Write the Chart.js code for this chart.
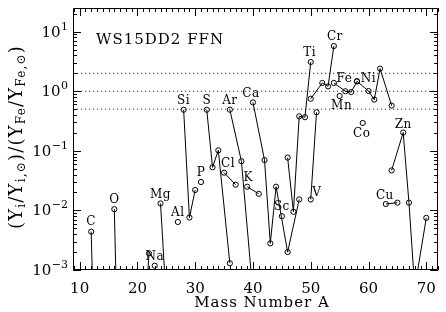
<!DOCTYPE html>
<html>
<head>
<meta charset="utf-8">
<script src="https://cdn.jsdelivr.net/npm/chart.js@4.4.0/dist/chart.umd.min.js"></script>
<style>
html, body { margin: 0; padding: 0; background: #fff; }
#wrap { width: 446px; height: 312px; }
</style>
</head>
<body>
<div id="wrap"><canvas id="chart"></canvas></div>
<script>
// Datos: elementos, masas de los isotopos y razones (Y_i/Y_i,sol)/(Y_Fe/Y_Fe,sol)
var elementos = ["C", "O", "Ne", "Na", "Mg", "Al", "Si", "P", "S", "Cl", "Ar", "K",
                 "Ca", "Sc", "Ti", "V", "Cr", "Mn", "Fe", "Co", "Ni", "Cu", "Zn"];
var masas = [
    [12, 13], [16, 17, 18], [20, 21, 22], [23], [24, 25, 26], [27], [28, 29, 30], [31],
    [32, 33, 34, 36], [35, 37], [36, 38, 40], [39, 41], [40, 42, 43, 44, 46, 48], [45],
    [46, 47, 48, 49, 50], [50, 51], [50, 52, 53, 54], [55], [54, 56, 57, 58], [59],
    [58, 60, 61, 62, 64], [63, 65], [64, 66, 67, 68, 70]
];
var razones = [
    [0.0044, 1e-6], [0.0105, 1e-6, 1e-6], [1e-7, 4.5e-5, 0.0019], [0.00118],
    [0.0131, 0.0003, 0.0002], [0.0064], [0.49, 0.0076, 0.022], [0.030],
    [0.49, 0.053, 0.102, 0.0013], [0.043, 0.027], [0.49, 0.067, 0.0004], [0.025, 0.019],
    [0.65, 0.070, 0.0028, 0.025, 0.0020, 0.0153], [0.0080],
    [0.077, 0.0095, 0.38, 0.367, 3.1], [0.0153, 0.445], [0.75, 1.38, 1.21, 5.74], [0.835],
    [1.38, 1.0, 0.97, 1.47], [0.294], [1.47, 1.01, 0.725, 2.4, 0.575],
    [0.0128, 0.0135], [0.047, 0.203, 0.0135, 0.0005, 0.0075]
];
var lineasRef = [0.5, 1, 2];
var ticksX = [10, 20, 30, 40, 50, 60, 70];
var ticksY = [-3, -2, -1, 0, 1];

// Etiquetas: [texto, elemento, masa de anclaje, dx, dy]
var etiquetas = [
    ["C", "C", 12, 0, -10], ["O", "O", 16, 0, -9], ["Na", "Na", 23, 0, -9],
    ["Mg", "Mg", 24, 0, -9], ["Al", "Al", 27, 0, -9], ["Si", "Si", 28, 0, -9],
    ["P", "P", 31, 0, -9], ["S", "S", 32, 0, -9], ["Cl", "Cl", 35, 4, -9],
    ["Ar", "Ar", 36, 0, -9], ["K", "K", 39, 1, -9], ["Ca", "Ca", 40, -2, -9],
    ["Sc", "Sc", 45, 0, -9], ["V", "V", 50, 6, -7], ["Ti", "Ti", 50, -1, -9],
    ["Cr", "Cr", 54, 1, -9], ["Fe", "Fe", 56, -1, -12], ["Mn", "Mn", 55, 2, 10],
    ["Ni", "Ni", 60, 0, -12], ["Co", "Co", 59, -1, 11], ["Zn", "Zn", 66, 0, -8],
    ["Cu", "Cu", 63, -1, -8]
];

var XMIN = 8.85, XMAX = 72.05, YMIN = 1e-3, YMAX = 25;
var fuente = "'DejaVu Serif', 'Liberation Serif', serif";

var datasets = elementos.map(function (el, i) {
    return {
        label: el,
        data: masas[i].map(function (m, j) { return {x: m, y: razones[i][j]}; }),
        showLine: true,
        borderColor: "#000",
        borderWidth: 1,
        pointRadius: 2.6,
        pointBorderWidth: 1,
        pointBorderColor: "#000",
        pointBackgroundColor: "rgba(0,0,0,0)"
    };
});
lineasRef.forEach(function (v) {
    datasets.push({
        label: "ref" + v,
        data: [{x: XMIN, y: v}, {x: XMAX, y: v}],
        showLine: true,
        borderColor: "#333",
        borderWidth: 1,
        borderDash: [1.2, 2.8],
        pointRadius: 0
    });
});

function texto(ctx, s, x, y, esp) {
    ctx.letterSpacing = (esp || 0) + "px";
    ctx.fillText(s, x, y);
    ctx.letterSpacing = "0px";
}

var decoracion = {
    id: "decoracion",
    afterDraw: function (chart) {
        var ctx = chart.ctx, a = chart.chartArea, sx = chart.scales.x, sy = chart.scales.y;
        ctx.save();
        ctx.strokeStyle = "#000";
        ctx.lineWidth = 1;
        ctx.beginPath();
        ctx.rect(Math.round(a.left) + 0.5, Math.round(a.top) + 0.5,
                 Math.round(a.right - a.left) - 1, Math.round(a.bottom - a.top) - 1);
        // marcas del eje x
        for (var v = Math.ceil(sx.min); v <= sx.max; v++) {
            var px = Math.round(sx.getPixelForValue(v)) + 0.5;
            var l = v % 10 === 0 ? 8 : 4;
            ctx.moveTo(px, a.bottom); ctx.lineTo(px, a.bottom - l);
            ctx.moveTo(px, a.top); ctx.lineTo(px, a.top + l);
        }
        // marcas del eje y (log)
        for (var e = -3; e <= 1; e++) {
            for (var k = 1; k <= 9; k++) {
                var val = k * Math.pow(10, e);
                if (val < sy.min || val > sy.max) continue;
                var py = Math.round(sy.getPixelForValue(val)) + 0.5;
                var ly = k === 1 ? 8 : 4;
                ctx.moveTo(a.left, py); ctx.lineTo(a.left + ly, py);
                ctx.moveTo(a.right, py); ctx.lineTo(a.right - ly, py);
            }
        }
        ctx.stroke();

        ctx.fillStyle = "#000";
        // etiquetas del eje y: 10^n
        ticksY.forEach(function (n) {
            var py = sy.getPixelForValue(Math.pow(10, n));
            var ex = n < 0 ? "\u2212" + (-n) : String(n);
            ctx.font = "11px " + fuente;
            var we = ctx.measureText(ex).width;
            ctx.textBaseline = "alphabetic";
            ctx.textAlign = "left";
            ctx.fillText(ex, 68 - we, py - 2);
            ctx.font = "15px " + fuente;
            ctx.textAlign = "right";
            ctx.textBaseline = "middle";
            ctx.fillText("10", 68 - we - 0.5, py + 1);
        });

        // etiquetas de los elementos
        ctx.font = "12px " + fuente;
        ctx.textAlign = "center";
        ctx.textBaseline = "middle";
        etiquetas.forEach(function (et) {
            var i = elementos.indexOf(et[1]);
            var j = masas[i].indexOf(et[2]);
            var px = sx.getPixelForValue(et[2]) + et[3];
            var py = sy.getPixelForValue(razones[i][j]) + et[4];
            texto(ctx, et[0], px, py, 0.5);
        });

        // titulo del modelo
        ctx.font = "15px " + fuente;
        ctx.textAlign = "left";
        texto(ctx, "WS15DD2 FFN", 96, 40, 1);

        // titulo eje x
        ctx.textAlign = "center";
        texto(ctx, "Mass Number A", 262, 303, 1);

        // titulo eje y con subindices
        var partes = [["(Y", 0], ["i", 1], ["/Y", 0], ["i,\u2299", 1], [")/(Y", 0], ["Fe", 1],
                      ["/Y", 0], ["Fe,\u2299", 1], [")", 0]];
        ctx.translate(17, 137);
        ctx.rotate(-Math.PI / 2);
        ctx.textAlign = "left";
        ctx.letterSpacing = "1.2px";
        var total = 0;
        partes.forEach(function (p) {
            ctx.font = (p[1] ? "12px " : "18px ") + fuente;
            total += ctx.measureText(p[0]).width;
        });
        var x0 = -total / 2;
        partes.forEach(function (p) {
            ctx.font = (p[1] ? "12px " : "18px ") + fuente;
            ctx.fillText(p[0], x0, p[1] ? 5 : 0);
            x0 += ctx.measureText(p[0]).width;
        });
        ctx.restore();
    }
};

var ctx = document.getElementById("chart").getContext("2d");
var chart = new Chart(ctx, {
    type: "scatter",
    data: {datasets: datasets},
    options: {
        responsive: true,
        maintainAspectRatio: false,
        animation: false,
        layout: {padding: {left: 0, top: 8, right: 2, bottom: 0}},
        plugins: {legend: {display: false}, tooltip: {enabled: false}},
        scales: {
            x: {
                type: "linear",
                min: XMIN,
                max: XMAX,
                grid: {display: false, drawTicks: false},
                border: {display: false},
                ticks: {color: "#000", font: {family: fuente, size: 15}, padding: 10},
                afterBuildTicks: function (s) { s.ticks = ticksX.map(function (v) { return {value: v}; }); },
                afterFit: function (s) { s.height = 42; }
            },
            y: {
                type: "logarithmic",
                min: YMIN,
                max: YMAX,
                grid: {display: false, drawTicks: false},
                border: {display: false},
                ticks: {display: false},
                afterFit: function (s) { s.width = 73; }
            }
        }
    },
    plugins: [decoracion]
});
</script>
</body>
</html>
